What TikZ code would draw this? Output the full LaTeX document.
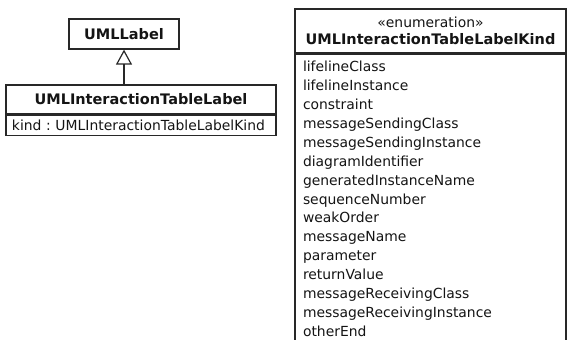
\documentclass[tikz,border=0pt]{standalone}
\usepackage{fontspec}
\setmainfont{DejaVu Sans}
\usetikzlibrary{arrows.meta,positioning}
\definecolor{LineDark}{RGB}{40,40,40}
\definecolor{TextDark}{RGB}{20,20,20}

\begin{document}
\frenchspacing
\begin{tikzpicture}[x=1bp,y=-1bp,
        cls/.style={draw=LineDark,line width=1.2bp,text=TextDark,inner sep=0pt,
                    font=\fontsize{14.5bp}{17bp}\selectfont\bfseries},
        attr/.style={draw=LineDark,line width=1.2bp,text=TextDark,anchor=north west,
                     align=left,inner xsep=8bp,
                     font=\fontsize{13.9bp}{18.9bp}\selectfont},
        inh/.style={draw=LineDark,line width=1.2bp,
                    -{Triangle[open,length=15bp,width=16bp]}}
      ]
        \useasboundingbox (0,0) rectangle (569,339);
        \clip (0,0) rectangle (569,339);
        % left hand classes
        \node[cls,minimum width=110bp,minimum height=30bp] (lbl) at (124,34) {UMLLabel};
        \node[cls,minimum width=270bp,minimum height=29bp] (itl) at (141,99.5) {UMLInteractionTableLabel};
        \node[attr,text width=258bp,inner xsep=6bp,inner ysep=2bp,minimum height=20bp]
          (itlattr) at (itl.south west) {\mbox{kind : UMLInteractionTableLabelKind}};
        \draw[inh] (itl.north -| lbl.south) -- (lbl.south);
        % enumeration
        \node[cls,minimum width=271bp,minimum height=44bp,align=center] (kind) at (430.5,31)
          {{\fontsize{13.9bp}{17bp}\mdseries «enumeration»}\\UMLInteractionTableLabelKind};
        \node[attr,text width=255bp,inner ysep=7bp] (lits) at (kind.south west)
          {lifelineClass\\
           lifelineInstance\\
           constraint\\
           messageSendingClass\\
           messageSendingInstance\\
           diagramIdentifier\\
           generatedInstanceName\\
           sequenceNumber\\
           weakOrder\\
           messageName\\
           parameter\\
           returnValue\\
           messageReceivingClass\\
           messageReceivingInstance\\
           otherEnd};
      \end{tikzpicture}
\end{document}
